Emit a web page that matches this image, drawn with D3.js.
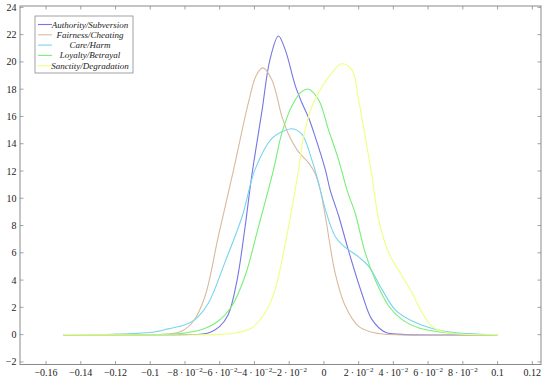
<!DOCTYPE html>
<html><head><meta charset="utf-8">
<script src="https://cdn.jsdelivr.net/npm/d3@7"></script>
<style>body{margin:0;background:#fff}svg{display:block}</style>
</head><body>
<script>
const seriesNames = ["Authority/Subversion","Fairness/Cheating","Care/Harm","Loyalty/Betrayal","Sanctity/Degradation"];
const seriesColors = ["#7676e2","#d8ba9e","#78d4ef","#78ee78","#eeff80"];
const authority = [[-0.15,0],[-0.08,0],[-0.07,0.05],[-0.065,0.2],[-0.06,0.6],[-0.055,1.5],[-0.05,4.0],[-0.0455,7.8],[-0.0416,11.6],[-0.0358,16.3],[-0.031,20.2],[-0.0262,21.9],[-0.0223,20.9],[-0.0166,18.3],[-0.0127,17.0],[-0.0088,15.9],[-0.005,14.5],[0.0008,12.1],[0.0036,10.6],[0.0085,8.7],[0.0143,6.1],[0.0219,3.0],[0.0277,1.1],[0.0354,0.17],[0.045,0.02],[0.1,0]];
const fairness = [[-0.15,0],[-0.09,0.05],[-0.082,0.25],[-0.0752,0.98],[-0.0685,2.8],[-0.0608,7.2],[-0.052,12.1],[-0.0435,17.0],[-0.039,19.0],[-0.0352,19.56],[-0.030,18.7],[-0.0242,16.0],[-0.0204,14.7],[-0.0146,13.4],[-0.0088,12.6],[-0.005,11.8],[-0.0021,10.6],[0.0008,8.7],[0.0065,4.5],[0.0123,2.1],[0.02,0.6],[0.0277,0.17],[0.035,0.03],[0.1,0]];
const care = [[-0.15,0],[-0.13,0.01],[-0.12,0.04],[-0.11,0.08],[-0.099,0.17],[-0.0897,0.42],[-0.080,0.73],[-0.0743,1.1],[-0.0666,2.3],[-0.057,5.3],[-0.047,8.7],[-0.0397,12.1],[-0.030,14.4],[-0.024,14.9],[-0.0185,15.1],[-0.0127,14.7],[-0.0069,12.8],[-0.003,11.1],[0.0008,9.2],[0.0065,7.2],[0.0123,6.4],[0.02,5.7],[0.0258,5.0],[0.0335,3.3],[0.0412,1.8],[0.0508,1.0],[0.0643,0.37],[0.0778,0.12],[0.09,0.03],[0.1,0]];
const loyalty = [[-0.15,0],[-0.09,0.03],[-0.08,0.12],[-0.0704,0.37],[-0.061,0.98],[-0.053,2.1],[-0.0454,4.3],[-0.0377,7.9],[-0.029,12.1],[-0.0242,14.8],[-0.0185,16.75],[-0.013,17.8],[-0.0088,18.0],[-0.003,17.2],[0.0027,15.0],[0.0085,12.8],[0.0133,10.6],[0.018,8.9],[0.0238,6.0],[0.0296,4.0],[0.0373,2.1],[0.045,1.1],[0.0547,0.49],[0.068,0.17],[0.08,0.04],[0.1,0]];
const sanctity = [[-0.15,0],[-0.06,0.02],[-0.051,0.12],[-0.0416,0.49],[-0.0339,1.6],[-0.0281,3.3],[-0.0233,6.0],[-0.0185,9.2],[-0.0146,12.1],[-0.0117,14.5],[-0.0069,16.75],[-0.001,18.2],[0.0046,19.2],[0.0104,19.86],[0.0162,19.4],[0.02,17.2],[0.0238,14.5],[0.0277,11.6],[0.0316,8.4],[0.0373,6.0],[0.045,4.3],[0.0508,3.06],[0.0566,1.6],[0.0624,0.6],[0.07,0.17],[0.08,0.03],[0.1,0]];
const seriesData = [authority, fairness, care, loyalty, sanctity];
const xTicks = [-0.16,-0.14,-0.12,-0.1,-0.08,-0.06,-0.04,-0.02,0,0.02,0.04,0.06,0.08,0.1,0.12];
const yTicks = [-2,0,2,4,6,8,10,12,14,16,18,20,22,24];

const W=550,H=380, L=20, R=541, T=6, B=364.5;
const svg = d3.select("body").append("svg").attr("width",W).attr("height",H);
const x = d3.scaleLinear().domain([-0.175,0.125]).range([L,R]);
const y = d3.scaleLinear().domain([-2.19,24.1]).range([B,T]);
const axisCol="#8a8a8a";
const font="'Liberation Serif','Times New Roman',serif";

svg.append("rect").attr("x",L).attr("y",T).attr("width",R-L).attr("height",B-T)
  .attr("fill","none").attr("stroke",axisCol).attr("stroke-width",1);

const tg = svg.append("g").attr("stroke",axisCol).attr("stroke-width",0.8);
xTicks.forEach(v=>{
  tg.append("line").attr("x1",x(v)).attr("x2",x(v)).attr("y1",B).attr("y2",B-3.5);
  tg.append("line").attr("x1",x(v)).attr("x2",x(v)).attr("y1",T).attr("y2",T+3.5);
});
yTicks.forEach(v=>{
  tg.append("line").attr("y1",y(v)).attr("y2",y(v)).attr("x1",L).attr("x2",L+3.5);
  tg.append("line").attr("y1",y(v)).attr("y2",y(v)).attr("x1",R).attr("x2",R-3.5);
});

xTicks.forEach(v=>{
  const t = svg.append("text").attr("x",x(v)).attr("y",376).attr("text-anchor","middle")
    .attr("font-family",font).attr("font-size",10).attr("fill","#222");
  const r = Math.round(v*100);
  if (r!==0 && Math.abs(r)<10) {
    const m = (r<0?"\u2212":"")+Math.abs(r);
    t.append("tspan").text(m+"\u2009\u00b7\u200910");
    t.append("tspan").attr("font-size",7).attr("dy",-4).text("\u22122");
  } else {
    t.text(v===0?"0":(v<0?"\u2212":"")+String(Math.abs(v)));
  }
});
yTicks.forEach(v=>{
  svg.append("text").attr("x",16.5).attr("y",y(v)+3.5).attr("text-anchor","end")
    .attr("font-family",font).attr("font-size",10).attr("fill","#222")
    .text(v<0?"\u2212"+Math.abs(v):String(v));
});

const line = d3.line().x(d=>x(d[0])).y(d=>y(Math.max(0,d[1]))).curve(d3.curveCatmullRom.alpha(0.5));
seriesData.forEach((d,i)=>{
  svg.append("path").attr("d",line(d)).attr("fill","none")
    .attr("stroke",seriesColors[i]).attr("stroke-width",1.1);
});

const lg = svg.append("g");
lg.append("rect").attr("x",35).attr("y",16).attr("width",98).attr("height",57)
  .attr("fill","#fff").attr("stroke",axisCol).attr("stroke-width",0.8);
seriesNames.forEach((n,i)=>{
  const yy = 24.5 + i*10.3;
  lg.append("line").attr("x1",38).attr("x2",52).attr("y1",yy).attr("y2",yy)
    .attr("stroke",seriesColors[i]).attr("stroke-width",1.1);
  lg.append("text").attr("x",90).attr("y",yy+3).attr("text-anchor","middle")
    .attr("font-family",font).attr("font-style","italic").attr("font-size",9).attr("fill","#222").text(n);
});
</script>
</body></html>
